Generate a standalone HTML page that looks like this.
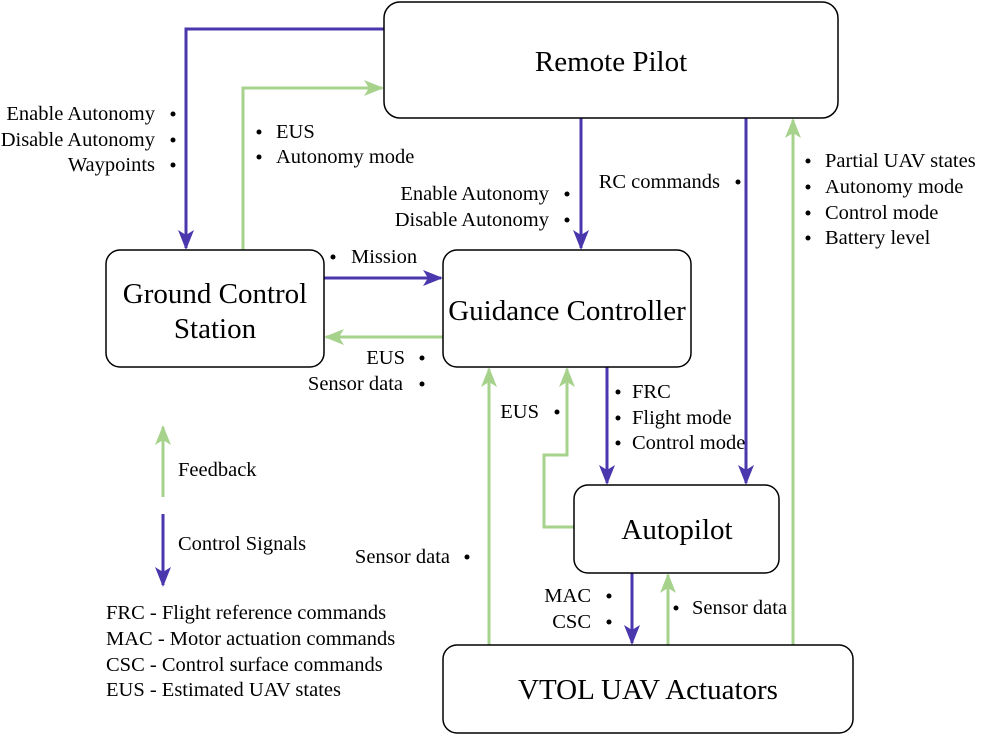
<!DOCTYPE html>
<html><head><meta charset="utf-8"><style>
body{margin:0;background:#fff}
svg{display:block}
text{font-family:"Liberation Serif","Times New Roman",serif;font-size:20.5px;fill:#000}
.t{font-size:29px}
</style></head><body>
<svg width="997" height="736" viewBox="0 0 997 736">
<defs>
<marker id="p" markerWidth="20" markerHeight="16" refX="18" refY="8" orient="auto" markerUnits="userSpaceOnUse" viewBox="0 0 20 16"><path d="M0,0 L20,8 L0,16 L5,8z" fill="#4a36ad"/></marker>
<marker id="g" markerWidth="20" markerHeight="16" refX="18" refY="8" orient="auto" markerUnits="userSpaceOnUse" viewBox="0 0 20 16"><path d="M0,0 L20,8 L0,16 L5,8z" fill="#a6d28c"/></marker>
</defs>
<g fill="none" stroke-width="3">
<g stroke="#4a36ad">
<path d="M384,29 H186 V248" marker-end="url(#p)"/>
<path d="M581,118 V248" marker-end="url(#p)"/>
<path d="M746,118 V483" marker-end="url(#p)"/>
<path d="M324,278 H441" marker-end="url(#p)"/>
<path d="M607,367 V483" marker-end="url(#p)"/>
<path d="M632,573 V643" marker-end="url(#p)"/>
<path d="M163,514 V585" marker-end="url(#p)"/>
</g>
<g stroke="#a6d28c">
<path d="M243,250 V88 H382" marker-end="url(#g)"/>
<path d="M793,645 V120" marker-end="url(#g)"/>
<path d="M443,337 H326" marker-end="url(#g)"/>
<path d="M489,645 V369" marker-end="url(#g)"/>
<path d="M574,527 H544 V455 H567 V369" marker-end="url(#g)"/>
<path d="M668,645 V575" marker-end="url(#g)"/>
<path d="M163,497 V427" marker-end="url(#g)"/>
</g>
</g>
<g fill="#fff" stroke="#000" stroke-width="1.5">
<rect x="384" y="2" width="454" height="116" rx="16"/>
<rect x="106" y="250" width="218" height="117" rx="14"/>
<rect x="443" y="250" width="248" height="117" rx="14"/>
<rect x="574" y="485" width="205" height="88" rx="14"/>
<rect x="443" y="645" width="410" height="88" rx="14"/>
</g>
<g text-anchor="middle">
<text class="t" x="611" y="71">Remote Pilot</text>
<text class="t" x="215" y="303">Ground Control</text>
<text class="t" x="215" y="338">Station</text>
<text class="t" x="567" y="320">Guidance Controller</text>
<text class="t" x="677" y="539">Autopilot</text>
<text class="t" x="648" y="699">VTOL UAV Actuators</text>
</g>
<g text-anchor="end">
<text x="155" y="120">Enable Autonomy</text>
<text x="155" y="146">Disable Autonomy</text>
<text x="155" y="171">Waypoints</text>
<text x="549" y="200">Enable Autonomy</text>
<text x="549" y="226">Disable Autonomy</text>
<text x="720" y="188">RC commands</text>
<text x="405" y="364">EUS</text>
<text x="403" y="390">Sensor data</text>
<text x="539" y="418">EUS</text>
<text x="450" y="563">Sensor data</text>
<text x="591" y="602">MAC</text>
<text x="591" y="628">CSC</text>
</g>
<g>
<text x="276" y="138">EUS</text>
<text x="276" y="163">Autonomy mode</text>
<text x="351" y="263">Mission</text>
<text x="632" y="398">FRC</text>
<text x="632" y="424">Flight mode</text>
<text x="632" y="449">Control mode</text>
<text x="692" y="614">Sensor data</text>
<text x="825" y="167">Partial UAV states</text>
<text x="825" y="193">Autonomy mode</text>
<text x="825" y="219">Control mode</text>
<text x="825" y="244">Battery level</text>
<text x="178" y="476">Feedback</text>
<text x="178" y="550">Control Signals</text>
<text x="106" y="619">FRC - Flight reference commands</text>
<text x="106" y="645">MAC - Motor actuation commands</text>
<text x="106" y="671">CSC - Control surface commands</text>
<text x="106" y="696">EUS - Estimated UAV states</text>
</g>
<g fill="#000">
<circle cx="173" cy="114" r="2.5"/><circle cx="173" cy="140" r="2.5"/><circle cx="173" cy="165" r="2.5"/>
<circle cx="259" cy="132" r="2.5"/><circle cx="259" cy="157" r="2.5"/>
<circle cx="567" cy="194" r="2.5"/><circle cx="567" cy="220" r="2.5"/>
<circle cx="738" cy="182" r="2.5"/>
<circle cx="333" cy="257" r="2.5"/>
<circle cx="422" cy="358" r="2.5"/><circle cx="422" cy="384" r="2.5"/>
<circle cx="557" cy="412" r="2.5"/>
<circle cx="618" cy="392" r="2.5"/><circle cx="618" cy="418" r="2.5"/><circle cx="618" cy="443" r="2.5"/>
<circle cx="467" cy="557" r="2.5"/>
<circle cx="609" cy="596" r="2.5"/><circle cx="609" cy="622" r="2.5"/>
<circle cx="676" cy="608" r="2.5"/>
<circle cx="808" cy="161" r="2.5"/><circle cx="808" cy="187" r="2.5"/><circle cx="808" cy="213" r="2.5"/><circle cx="808" cy="238" r="2.5"/>
</g>
</svg>
</body></html>
